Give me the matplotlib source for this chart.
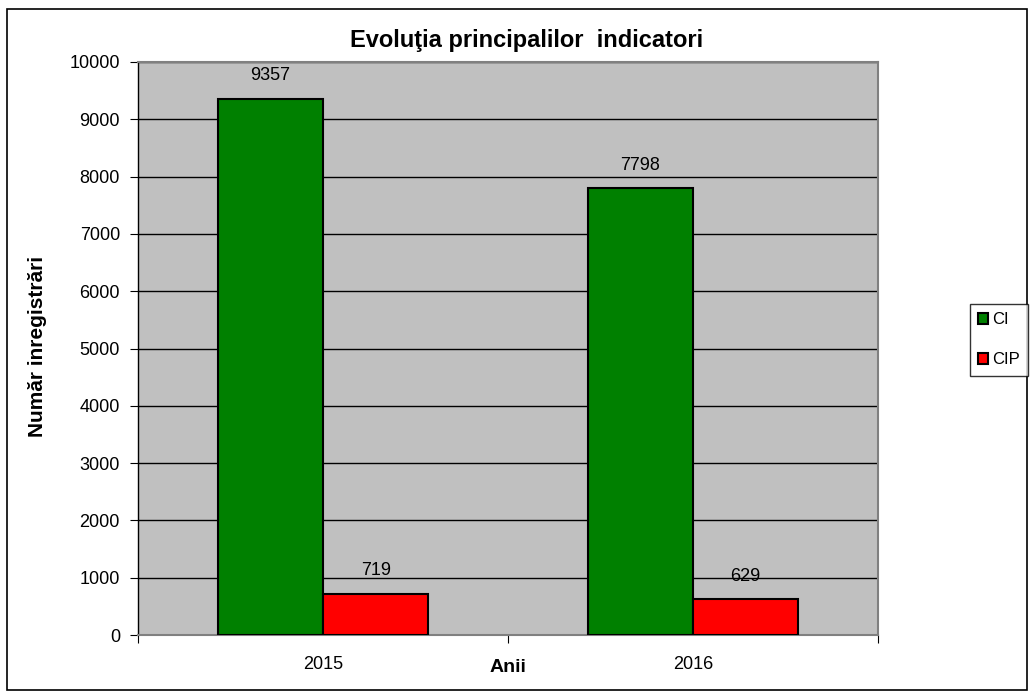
import matplotlib
matplotlib.use("Agg")
import matplotlib.pyplot as plt
from matplotlib.patches import Rectangle
import numpy as np

years = ["2015", "2016"]
series_names = ["CI", "CIP"]
ci_values = [9357, 7798]
cip_values = [719, 629]
colors = ["#008000", "#FF0000"]

plt.rcParams['font.family'] = ['Liberation Sans', 'DejaVu Sans']

W, H = 1035, 693
fig = plt.figure(figsize=(W / 100, H / 100), dpi=100)
ax = fig.add_axes([138 / W, 1 - 635 / H, (878 - 138) / W, (635 - 62) / H])
ax.set_facecolor("#C0C0C0")

x = np.arange(len(years))
bw = 0.285
b1 = ax.bar(x - bw / 2, ci_values, bw, color=colors[0], edgecolor="black", linewidth=1.5, label=series_names[0], zorder=3)
b2 = ax.bar(x + bw / 2, cip_values, bw, color=colors[1], edgecolor="black", linewidth=1.5, label=series_names[1], zorder=3)

for bars in (b1, b2):
    for r in bars:
        ax.annotate(f"{int(r.get_height())}", (r.get_x() + r.get_width() / 2, r.get_height()),
                    xytext=(0, 16.5), textcoords="offset points", ha="center", va="center", fontsize=13, zorder=4)

ax.set_xlim(-0.5, 1.5)
ax.set_ylim(0, 10000)
ax.set_yticks(np.arange(0, 10001, 1000))
ax.yaxis.grid(True, color="black", linewidth=1)
ax.set_axisbelow(True)
ax.set_xticks([-0.5, 0.5, 1.5], minor=False)
ax.set_xticklabels([])
ax.set_xticks(x, minor=True)
ax.set_xticklabels(years, minor=True)
ax.tick_params(axis="x", which="minor", length=0, pad=15, labelsize=13)
ax.tick_params(axis="x", which="major", length=6, direction="out", color="black")
ax.tick_params(axis="y", length=6, direction="out", labelsize=13, pad=7)

for s in ["top", "right", "bottom"]:
    ax.spines[s].set_color("#808080")
    ax.spines[s].set_linewidth(1.5)
ax.spines["left"].set_color("black")
ax.spines["left"].set_linewidth(1)

fig.text(508 / W, 1 - 668 / H, "Anii", ha="center", va="center", fontsize=14, fontweight="bold")
fig.text(38 / W, 1 - 346 / H, "Număr inregistrări", ha="center", va="center", rotation=90, fontsize=15, fontweight="bold")
fig.text(527 / W, 1 - 41 / H, "Evoluţia principalilor  indicatori", ha="center", va="center", fontsize=17, fontweight="bold")

leg = fig.legend(handles=[b1, b2], labels=series_names, loc="center", bbox_to_anchor=(999 / W, 1 - 340 / H),
                 frameon=True, fancybox=False, edgecolor="black", fontsize=12, handlelength=0.6, handleheight=0.6,
                 handletextpad=0.2, labelspacing=1.5, borderpad=0.5, borderaxespad=0)
leg.get_frame().set_linewidth(1)

fig.patches.append(Rectangle((7 / W, 1 - 690 / H), (1027 - 7) / W, (690 - 9) / H, transform=fig.transFigure,
                             fill=False, edgecolor="black", linewidth=1.2))

fig.savefig("out.png", dpi=100)
